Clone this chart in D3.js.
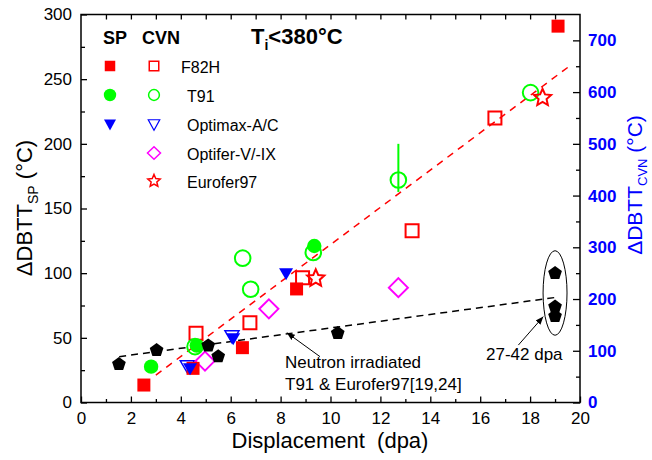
<!DOCTYPE html>
<html><head><meta charset="utf-8">
<script src="https://cdn.jsdelivr.net/npm/d3@7"></script>
<style>body{margin:0;background:#fff}svg{display:block;font-family:"Liberation Sans",Arial,sans-serif}</style>
</head><body><svg id="c" width="652" height="460"></svg>
<script>
// ---- data (Displacement dpa, ΔDBTT °C) ----
const xTicks = [0,2,4,6,8,10,12,14,16,18,20];
const spTicks = [0,50,100,150,200,250,300];
const cvnTicks = [0,100,200,300,400,500,600,700];
const f82hSP = [[2.52,13.5],[4.49,26.4],[6.47,42.4],[8.64,87.8],[19.12,291]];
const t91SP = [[2.81,27.7],[4.64,44],[9.35,121]];
const optimaxSP = [[4.37,25.7],[6.1,48.9],[8.22,99.1]];
const f82hCVN = [[4.61,134],[6.77,154],[8.88,241],[13.27,332],[16.59,550]];
const t91CVN = [[4.57,108],[6.48,279],[6.8,219],[9.31,290],[12.72,430],[18.02,599]];
const t91CVNerr = [[12.72,407,500]];
const optimaxCVN = [[4.26,69],[6.05,127]];
const optiferCVN = [[4.97,80],[7.53,181],[12.72,222]];
const euroferCVN = [[9.41,240],[18.5,589]];
const neutronCVN = [[1.52,74],[3.03,101],[5.1,110],[5.5,89],[10.29,134],[19.0,250],[19.0,185],[19.0,167]];
const redFit = [[3.0,53],[19.6,651]];
const blackFit = [[1.53,88.6],[19.07,203.4]];

const svg = d3.select("#c");
const L=81,R=580,T=14.5,B=402.5;
const x = d3.scaleLinear([0,20],[L,R]);
const ySP = d3.scaleLinear([0,300],[B,T]);
const yC = d3.scaleLinear([0,750],[B,T]);

// ---- symbols ----
const sym = {
  square:s=>`M${-s/2},${-s/2}H${s/2}V${s/2}H${-s/2}Z`,
  circle:r=>`M${-r},0A${r},${r} 0 1,0 ${r},0A${r},${r} 0 1,0 ${-r},0Z`,
  tri:(w,h)=>`M${-w/2},${-h/2}H${w/2}L0,${h/2}Z`,
  diamond:(w,h)=>`M0,${-h/2}L${w/2},0L0,${h/2}L${-w/2},0Z`,
  star:(Ro,Ri)=>{let p=[];for(let i=0;i<10;i++){const a=-Math.PI/2+i*Math.PI/5,r=i%2?Ri:Ro;p.push([r*Math.cos(a),r*Math.sin(a)]);}return "M"+p.map(q=>q.join(",")).join("L")+"Z";},
  pent:Rr=>{let p=[];for(let i=0;i<5;i++){const a=-Math.PI/2+i*2*Math.PI/5;p.push([Rr*Math.cos(a),Rr*Math.sin(a)]);}return "M"+p.map(q=>q.join(",")).join("L")+"Z";}
};

// ---- axes ----
function styleAxis(g){g.select(".domain").remove();g.selectAll(".tick line").attr("stroke","#000").attr("stroke-width",1.3);}
svg.append("g").attr("transform",`translate(0,${B})`)
  .call(d3.axisBottom(x).tickValues(d3.range(1,20,2)).tickSize(-3.5).tickFormat(""))
  .call(styleAxis);
svg.append("g").attr("transform",`translate(0,${B})`)
  .call(d3.axisBottom(x).tickValues(xTicks).tickSize(-6).tickPadding(9).tickFormat(d3.format("d")))
  .call(styleAxis).call(g=>g.selectAll("text").attr("font-size",17).attr("fill","#000"));
svg.append("g").attr("transform",`translate(0,${T})`)
  .call(d3.axisTop(x).tickValues(d3.range(1,20,1)).tickSize(-5).tickFormat(""))
  .call(styleAxis);
svg.append("g").attr("transform",`translate(${L},0)`)
  .call(d3.axisLeft(ySP).tickValues(d3.range(25,300,50)).tickSize(-4).tickFormat(""))
  .call(styleAxis);
svg.append("g").attr("transform",`translate(${L},0)`)
  .call(d3.axisLeft(ySP).tickValues(spTicks).tickSize(-6).tickPadding(9).tickFormat(d3.format("d")))
  .call(styleAxis).call(g=>g.selectAll("text").attr("font-size",17).attr("fill","#000"));
svg.append("g").attr("transform",`translate(${R},0)`)
  .call(d3.axisRight(yC).tickValues(d3.range(50,750,100)).tickSize(-4).tickFormat(""))
  .call(styleAxis);
svg.append("g").attr("transform",`translate(${R},0)`)
  .call(d3.axisRight(yC).tickValues(cvnTicks).tickSize(-7).tickPadding(8).tickFormat(d3.format("d")))
  .call(styleAxis).call(g=>g.selectAll("text").attr("font-size",17).attr("font-weight","bold").attr("fill","#0000ff"));
svg.append("rect").attr("x",L).attr("y",T).attr("width",R-L).attr("height",B-T)
  .attr("fill","none").attr("stroke","#000").attr("stroke-width",1.5);

// ---- axis titles ----
svg.append("text").attr("x",330).attr("y",448).attr("text-anchor","middle").attr("font-size",22)
  .attr("xml:space","preserve").text("Displacement  (dpa)");
const yl = svg.append("text").attr("transform","translate(32,208) rotate(-90)").attr("text-anchor","middle").attr("font-size",22);
yl.append("tspan").text("ΔDBTT");
yl.append("tspan").attr("dy",6).attr("font-size",14).text("SP");
yl.append("tspan").attr("dy",-6).text(" (°C)");
const yr = svg.append("text").attr("transform","translate(642,185) rotate(-90)").attr("text-anchor","middle").attr("font-size",21).attr("fill","#0000ff");
yr.append("tspan").text("ΔDBTT");
yr.append("tspan").attr("dy",5).attr("font-size",13).text("CVN");
yr.append("tspan").attr("dy",-5).text(" (°C)");

// ---- fit lines ----
const lineC = d3.line().x(d=>x(d[0])).y(d=>yC(d[1]));
svg.append("path").attr("d",lineC(redFit)).attr("stroke","#ff0000").attr("stroke-width",1.5).attr("stroke-dasharray","7,6").attr("fill","none");
svg.append("path").attr("d",lineC(blackFit)).attr("stroke","#000").attr("stroke-width",1.5).attr("stroke-dasharray","7,5").attr("fill","none");

// ---- error bar ----
svg.selectAll(".err").data(t91CVNerr).join("line")
  .attr("x1",d=>x(d[0])).attr("x2",d=>x(d[0])).attr("y1",d=>yC(d[1])).attr("y2",d=>yC(d[2]))
  .attr("stroke","#00ff00").attr("stroke-width",2);

function plot(data, y, path, fill, stroke, sw){
  svg.append("g").selectAll("path").data(data).join("path")
    .attr("transform",d=>`translate(${x(d[0])},${y(d[1])})`)
    .attr("d",path).attr("fill",fill).attr("stroke",stroke).attr("stroke-width",sw);
}
// open CVN
plot(f82hCVN,yC,sym.square(13),"none","#ff0000",2);
plot(t91CVN,yC,sym.circle(7.8),"none","#00ff00",2);
plot(optimaxCVN,yC,sym.tri(14,12),"none","#0000ff",1.5);
plot(optiferCVN,yC,sym.diamond(19,19),"none","#ff00ff",2);
plot(euroferCVN,yC,sym.star(9,4.2),"none","#ff0000",2);
// filled SP
plot(f82hSP,ySP,sym.square(13),"#ff0000","none",0);
plot(t91SP,ySP,sym.circle(7.2),"#00ff00","none",0);
plot(optimaxSP,ySP,sym.tri(14,12),"#0000ff","none",0);
// neutron irradiated
plot(neutronCVN,yC,sym.pent(7.2),"#000","none",0);

// ---- annotations ----
svg.append("defs").append("marker").attr("id","ah").attr("viewBox","0 0 10 10").attr("refX",10).attr("refY",5)
  .attr("markerWidth",8).attr("markerHeight",8).attr("markerUnits","userSpaceOnUse").attr("orient","auto")
  .append("path").attr("d","M0,1L10,5L0,9Z").attr("fill","#000");
svg.append("line").attr("x1",x(9.58)).attr("y1",yC(88.6)).attr("x2",x(8.25)).attr("y2",yC(135))
  .attr("stroke","#000").attr("stroke-width",1).attr("marker-end","url(#ah)");
svg.append("line").attr("x1",x(17.53)).attr("y1",yC(111)).attr("x2",x(18.53)).attr("y2",yC(166))
  .attr("stroke","#000").attr("stroke-width",1).attr("marker-end","url(#ah)");
svg.append("ellipse").attr("cx",x(19)).attr("cy",yC(211.7)).attr("rx",x(19.48)-x(19)).attr("ry",yC(130)-yC(211.7))
  .attr("fill","none").attr("stroke","#000").attr("stroke-width",1);
svg.append("text").attr("x",285).attr("y",368).attr("font-size",17).text("Neutron irradiated");
svg.append("text").attr("x",285).attr("y",390).attr("font-size",17).text("T91 & Eurofer97[19,24]");
svg.append("text").attr("x",486).attr("y",360).attr("font-size",17).text("27-42 dpa");

// ---- legend ----
svg.append("text").attr("x",103).attr("y",44).attr("font-size",18).attr("font-weight","bold").text("SP");
svg.append("text").attr("x",142).attr("y",44).attr("font-size",18).attr("font-weight","bold").text("CVN");
const ti = svg.append("text").attr("x",251).attr("y",44).attr("font-size",22).attr("font-weight","bold");
ti.append("tspan").text("T");
ti.append("tspan").attr("dy",6).attr("font-size",14).text("i");
ti.append("tspan").attr("dy",-6).text("<380°C");
const legend = [
  {name:"F82H",y:66,tx:181,ty:73,sp:sym.square(10.5),cvn:sym.square(9.5),col:"#ff0000",csw:1.5},
  {name:"T91",y:95,tx:187,ty:101.5,sp:sym.circle(6.2),cvn:sym.circle(5.4),col:"#00ff00",csw:1.5},
  {name:"Optimax-A/C",y:125,tx:187,ty:131,sp:sym.tri(12,11),cvn:sym.tri(11.5,10.5),col:"#0000ff",csw:1.2},
  {name:"Optifer-V/-IX",y:153,tx:187,ty:159.5,sp:null,cvn:sym.diamond(13,12.5),col:"#ff00ff",csw:1.5},
  {name:"Eurofer97",y:181,tx:187,ty:188,sp:null,cvn:sym.star(6.5,3),col:"#ff0000",csw:1.5}
];
legend.forEach(l=>{
  if(l.sp) svg.append("path").attr("transform",`translate(110,${l.y})`).attr("d",l.sp).attr("fill",l.col);
  svg.append("path").attr("transform",`translate(154,${l.y})`).attr("d",l.cvn).attr("fill","none").attr("stroke",l.col).attr("stroke-width",l.csw);
  svg.append("text").attr("x",l.tx).attr("y",l.ty).attr("font-size",16).text(l.name);
});
</script></body></html>
